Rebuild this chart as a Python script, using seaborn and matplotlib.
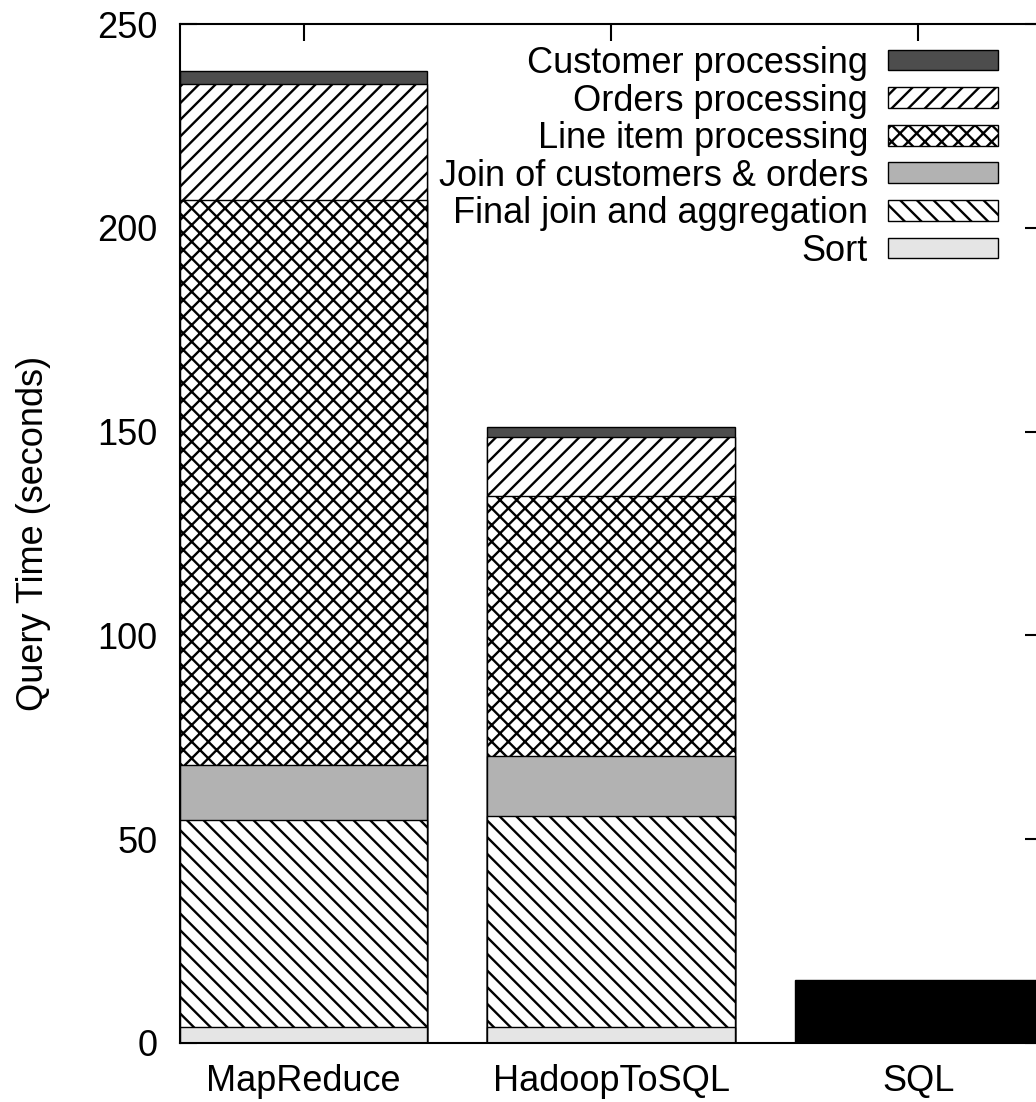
import pandas as pd
import matplotlib
matplotlib.use('Agg')
import matplotlib.pyplot as plt
from matplotlib.patches import Patch
import seaborn as sns

# values (seconds), bottom segment first
systems = ["MapReduce", "HadoopToSQL", "SQL"]
components = ["Sort", "Final join and aggregation", "Join of customers & orders",
              "Line item processing", "Orders processing", "Customer processing"]
mapreduce_times = [4.0, 50.7, 13.5, 138.7, 28.3, 3.2]
hadooptosql_times = [4.0, 51.7, 14.7, 63.8, 14.5, 2.4]
sql_time = 15.5

fills = {
    "Sort": "#e5e5e5",
    "Final join and aggregation": "white",
    "Join of customers & orders": "#b2b2b2",
    "Line item processing": "white",
    "Orders processing": "white",
    "Customer processing": "#4d4d4d",
}
hatches = {
    "Sort": None,
    "Final join and aggregation": "\\\\",
    "Join of customers & orders": None,
    "Line item processing": "xx",
    "Orders processing": "//",
    "Customer processing": None,
}

sns.set_style("ticks")
plt.rcParams['font.family'] = ['Liberation Sans', 'DejaVu Sans']
plt.rcParams['hatch.linewidth'] = 1.7
plt.rcParams['hatch.color'] = 'black'
plt.rcParams['text.color'] = 'black'
plt.rcParams['axes.labelcolor'] = 'black'
plt.rcParams['axes.edgecolor'] = 'black'
plt.rcParams['xtick.color'] = 'black'
plt.rcParams['ytick.color'] = 'black'

df = pd.DataFrame({
    "system": ["MapReduce"] * len(components) + ["HadoopToSQL"] * len(components),
    "component": components * 2,
    "time": mapreduce_times + hadooptosql_times,
})
df["top"] = df.groupby("system")["time"].cumsum()
sql_df = pd.DataFrame({"system": ["SQL"], "time": [sql_time]})

bar_width = 0.805
fig = plt.figure(figsize=(10.36, 11.02), dpi=100)
ax = fig.add_axes([180 / 1036, 1 - 1043 / 1102, 862 / 1036, 1019 / 1102])

# stacked: draw cumulative heights from the top layer down,
# each lower layer covers the part below it
for comp in reversed(components):
    layer = df[df["component"] == comp]
    sns.barplot(data=layer, x="system", y="top", order=systems, color=fills[comp],
                hatch=hatches[comp], edgecolor="black", linewidth=1.0,
                width=bar_width, saturation=1, errorbar=None, ax=ax)

sns.barplot(data=sql_df, x="system", y="time", order=systems, color="black",
            edgecolor="black", linewidth=1.0, width=bar_width, saturation=1,
            errorbar=None, ax=ax)

ax.set_xlim(-bar_width / 2, len(systems) - 1 + bar_width / 2)
ax.set_ylim(0, 250)
ax.set_yticks([0, 50, 100, 150, 200, 250])
ax.set_xlabel("")
ax.set_ylabel("Query Time (seconds)", fontsize=26)
ax.yaxis.set_label_coords(-0.15, 0.5)
ax.set_axisbelow(True)
ax.tick_params(axis='both', direction='in', length=12, width=1.5,
               top=True, right=True, labelsize=26, colors='black')
ax.tick_params(axis='x', pad=15)
ax.tick_params(axis='y', pad=16)
for s in ax.spines.values():
    s.set_linewidth(1.5)
    s.set_visible(True)

handles = [Patch(facecolor=fills[c], edgecolor="black", hatch=hatches[c], linewidth=1.0)
           for c in reversed(components)]
ax.legend(handles, list(reversed(components)), loc="upper right",
          bbox_to_anchor=(998 / 1036, 1 - 46 / 1102), bbox_transform=fig.transFigure,
          frameon=False, fontsize=26, markerfirst=False, handlelength=3.05,
          handleheight=0.5, handletextpad=0.55, labelspacing=0.07,
          borderpad=0, borderaxespad=0)

fig.savefig("out.png", dpi=100, facecolor="white")
plt.close(fig)
